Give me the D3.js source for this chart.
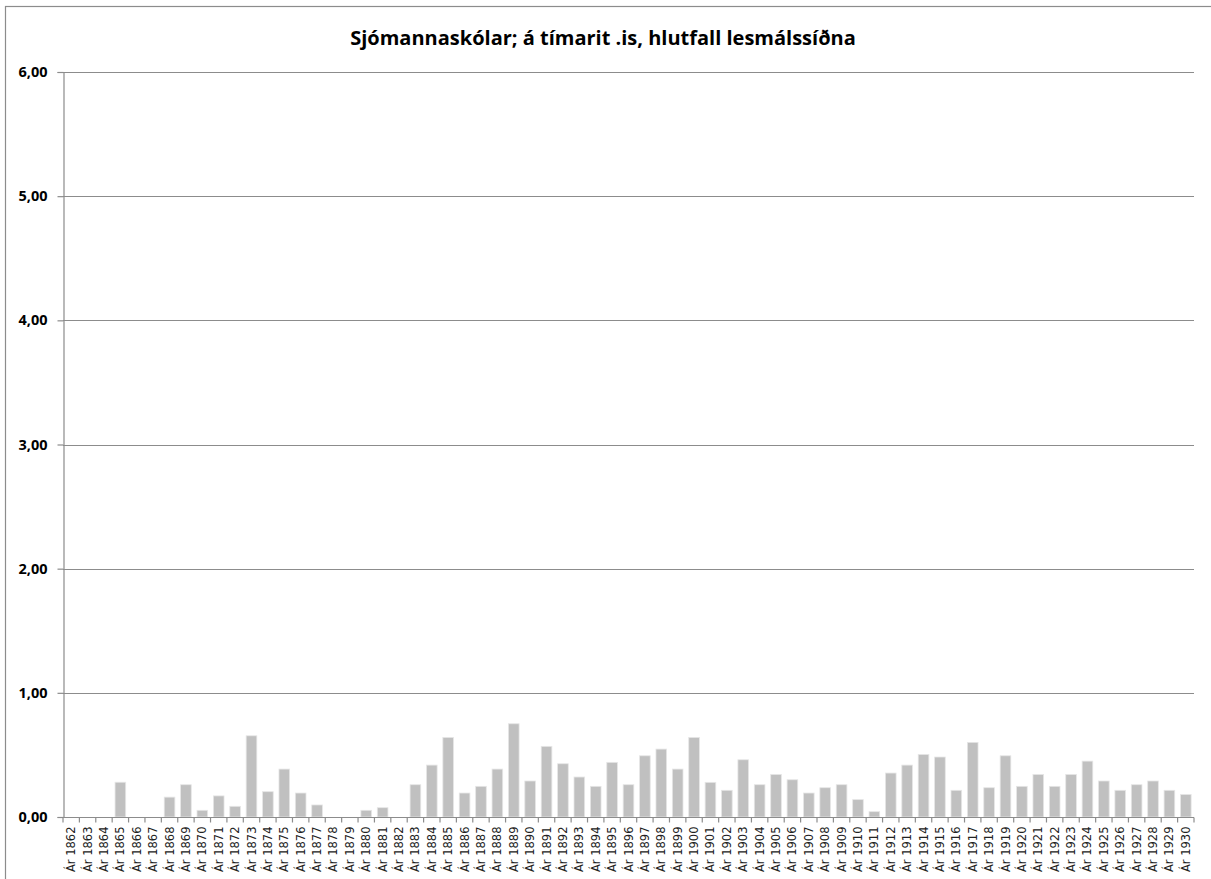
<!DOCTYPE html>
<html><head>
<meta charset="utf-8">
<title>Sjómannaskólar</title>
<script src="https://d3js.org/d3.v7.min.js"></script>
<style>
  body { margin: 0; background: #fff; }
  text { font-family: "Open Sans", "DejaVu Sans", sans-serif; }
  .ylab { font-weight: bold; font-size: 14.5px; text-anchor: end; }
  .xlab { font-size: 11.5px; font-family: "DejaVu Sans", sans-serif; fill: #222; }
</style>
</head>
<body>
<svg id="chart" width="1211" height="879"></svg>
<script>
// years shown on the x axis
const years = d3.range(1862, 1931);
const categories = years.map(y => "Ár " + y);

// hlutfall lesmálssíðna per year
const values = [
  0, 0, 0, 0.28, 0, 0, 0.16, 0.26, 0.054, 0.17,
  0.086, 0.654, 0.204, 0.386, 0.193, 0.097, 0, 0, 0.054, 0.075,
  0, 0.26, 0.418, 0.641, 0.193, 0.247, 0.386, 0.751, 0.29, 0.569,
  0.429, 0.322, 0.247, 0.44, 0.26, 0.493, 0.547, 0.386, 0.641, 0.279,
  0.215, 0.461, 0.26, 0.343, 0.30, 0.193, 0.236, 0.26, 0.14, 0.043,
  0.354, 0.418, 0.504, 0.483, 0.215, 0.601, 0.236, 0.493, 0.247, 0.343,
  0.247, 0.343, 0.45, 0.29, 0.215, 0.26, 0.29, 0.215, 0.182
];

const yTicks = [0, 1, 2, 3, 4, 5, 6];
const title = "Sjómannaskólar; á tímarit .is, hlutfall lesmálssíðna";

const svg = d3.select("#chart");
const plotLeft = 63, plotRight = 1194, plotTop = 72, plotBottom = 817;

// outer chart frame
svg.append("rect")
   .attr("x", 5.5).attr("y", 6.5)
   .attr("width", 1220).attr("height", 900)
   .attr("fill", "none").attr("stroke", "#8c8c8c").attr("stroke-width", 1.2);

svg.append("text")
   .attr("x", 603).attr("y", 45)
   .attr("text-anchor", "middle")
   .attr("font-weight", "bold").attr("font-size", "20px")
   .text(title);

const x = d3.scaleBand().domain(categories).range([plotLeft, plotRight]).paddingInner(0.35).paddingOuter(0.175);
const y = d3.scaleLinear().domain([0, 6]).range([plotBottom, plotTop]);

// gridlines
svg.append("g").selectAll("line").data(yTicks.filter(d => d > 0))
   .join("line")
   .attr("x1", plotLeft).attr("x2", plotRight)
   .attr("y1", d => Math.round(y(d)) + 0.5).attr("y2", d => Math.round(y(d)) + 0.5)
   .attr("stroke", "#8c8c8c").attr("stroke-width", 1.2);

// bars
svg.append("g").selectAll("rect").data(values)
   .join("rect")
   .attr("x", (d, i) => x(categories[i]))
   .attr("width", x.bandwidth())
   .attr("y", d => y(d))
   .attr("height", d => plotBottom - y(d))
   .attr("fill", "#c0c0c0")
   .attr("stroke", "#e6e6e6").attr("stroke-width", 0.8);

// y axis
const yAxis = svg.append("g").attr("transform", `translate(${plotLeft + 0.5},0)`)
   .call(d3.axisLeft(y).tickValues(yTicks).tickSize(6).tickFormat(d => d3.format(".2f")(d).replace(".", ",")));
yAxis.select(".domain").attr("stroke", "#8c8c8c").attr("stroke-width", 1.2);
yAxis.selectAll(".tick line").attr("stroke", "#8c8c8c").attr("stroke-width", 1.2);
yAxis.selectAll(".tick text").attr("class", "ylab").attr("x", -16).attr("fill", "#000");
yAxis.attr("font-size", null).attr("font-family", null);

// x axis
const bandStep = x.step();
const xAxis = svg.append("g").attr("transform", `translate(0,${plotBottom + 0.5})`);
xAxis.append("line").attr("x1", plotLeft).attr("x2", plotRight)
   .attr("stroke", "#8c8c8c").attr("stroke-width", 1.2);
xAxis.selectAll("line.tick").data(d3.range(categories.length + 1))
   .join("line").attr("class", "tick")
   .attr("x1", i => plotLeft + i * bandStep).attr("x2", i => plotLeft + i * bandStep)
   .attr("y1", 0).attr("y2", 5)
   .attr("stroke", "#8c8c8c").attr("stroke-width", 1.2);
xAxis.selectAll("text").data(categories)
   .join("text").attr("class", "xlab")
   .attr("transform", d => `translate(${x(d) + x.bandwidth() / 2 + 4},9) rotate(-90)`)
   .attr("text-anchor", "end")
   .text(d => d);
</script>
</body>
</html>
